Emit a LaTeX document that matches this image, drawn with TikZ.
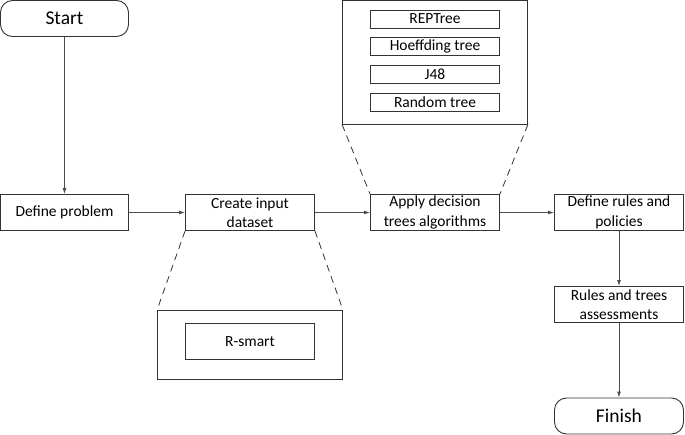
\documentclass[tikz,border=0pt]{standalone}
\usepackage{fontspec}
\setmainfont{Carlito}
\usetikzlibrary{arrows.meta}
\begin{document}
\begin{tikzpicture}[x=1pt,y=-1pt,
  box/.style={draw=black!80, line width=0.9pt, fill=white, inner sep=0pt, align=center,
    font=\fontsize{15.5}{19.5}\selectfont},
  term/.style={box, rounded corners=12pt, font=\fontsize{19.5}{24}\selectfont},
  conn/.style={draw=black!70, line width=0.9pt, -{Latex[length=6pt,width=4pt]}},
  zoomline/.style={draw=black!80, line width=0.8pt, dash pattern=on 7pt off 5pt}]
\useasboundingbox (0,0) rectangle (685,435);
% terminals
\node[term, minimum width=128pt, minimum height=36pt] (start) at (64.5,18.5) {Start};
\node[term, minimum width=129pt, minimum height=36pt] (finish) at (619,416) {Finish};
% main boxes
\node[box, minimum width=128pt, minimum height=36pt] (def) at (64.5,212.5) {Define problem};
\node[box, minimum width=129pt, minimum height=36pt] (create) at (250,212.5) {Create input\\dataset};
\node[box, minimum width=129pt, minimum height=36pt] (apply) at (435,212.5) {Apply decision\\trees algorithms};
\node[box, minimum width=129pt, minimum height=36pt] (rules) at (619,212.5) {Define rules and\\policies};
\node[box, minimum width=129pt, minimum height=36pt] (assess) at (619,304.5) {Rules and trees\\assessments};
% detail boxes
\node[box, minimum width=185pt, minimum height=69pt] (rout) at (250,345) {};
\node[box, minimum width=129pt, minimum height=36pt] (rsmart) at (250,341.5) {R-smart};
\node[box, minimum width=185pt, minimum height=124pt] (tout) at (435,62) {};
\node[box, minimum width=129pt, minimum height=18pt] (rep) at (435,19) {REPTree};
\node[box, minimum width=129pt, minimum height=18pt] (hoef) at (435,46.5) {Hoeffding tree};
\node[box, minimum width=129pt, minimum height=18pt] (j48) at (435,74.5) {J48};
\node[box, minimum width=129pt, minimum height=18pt] (rand) at (435,102.5) {Random tree};
% zoom lines
\draw[zoomline] (create.south west) -- (rout.north west);
\draw[zoomline] (create.south east) -- (rout.north east);
\draw[zoomline] (tout.south west) -- (apply.north west);
\draw[zoomline] (tout.south east) -- (apply.north east);
% connectors
\draw[conn] (start) -- (def);
\draw[conn] (def) -- (create);
\draw[conn] (create) -- (apply);
\draw[conn] (apply) -- (rules);
\draw[conn] (rules) -- (assess);
\draw[conn] (assess) -- (finish);
\end{tikzpicture}
\end{document}
